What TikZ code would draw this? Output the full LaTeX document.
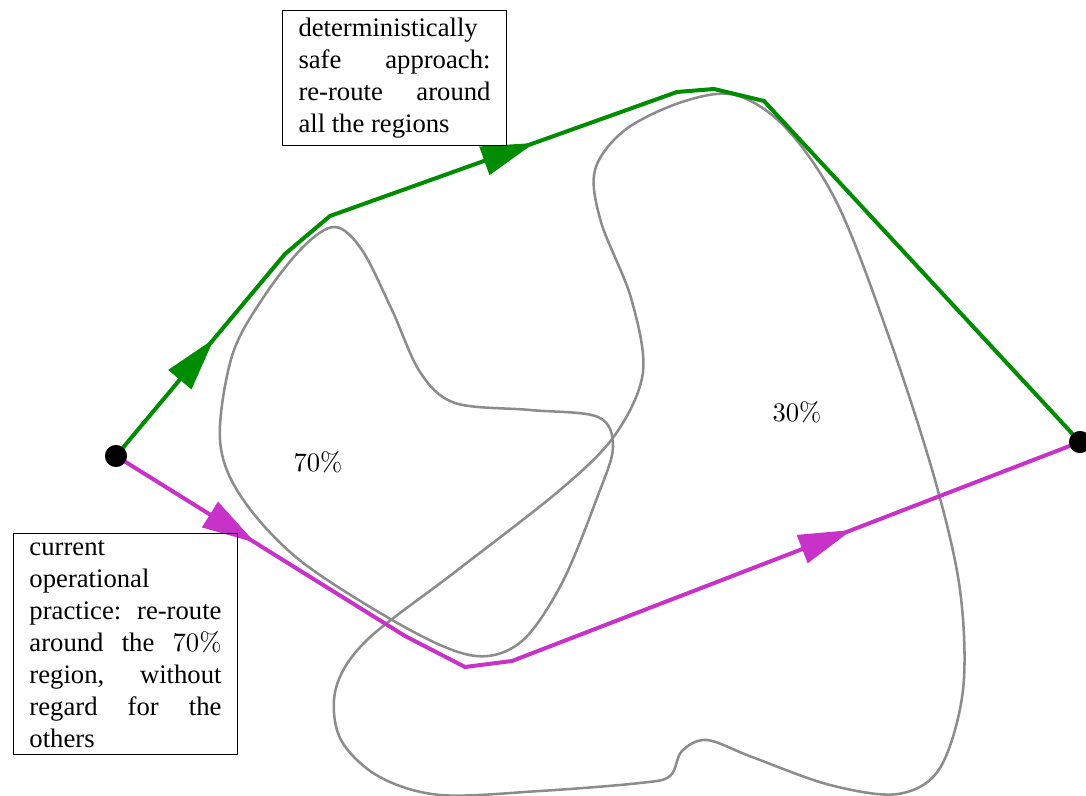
\documentclass[tikz,border=0pt]{standalone}
\usepackage{fontspec}
\setmainfont{Liberation Serif}
\newfontfamily\lmr{Latin Modern Roman}
\usetikzlibrary{arrows.meta,decorations.markings}
\definecolor{safegreen}{RGB}{0,140,0}
\definecolor{practicemag}{RGB}{200,50,200}
\definecolor{regiongray}{RGB}{140,140,140}
\begin{document}
\begin{tikzpicture}[x=0.375pt,y=-0.375pt,
  region/.style={draw=regiongray, line width=0.95pt},
  route/.style={line width=1.5pt, line join=miter},
  endpoint/.style={circle, fill=black, inner sep=0pt, minimum size=8.2pt},
  notebox/.style={draw, line width=0.4pt, text width=72pt, align=justify,
    inner xsep=6pt, inner ysep=2.6pt, font=\fontsize{10pt}{12pt}\selectfont},
  pct/.style={font=\lmr\fontsize{10pt}{12pt}\selectfont}
]
\useasboundingbox (0,0) rectangle (1086,796);

% uncertain regions
\draw[region] plot[smooth cycle, tension=0.55] coordinates {
  (335,227) (362,250) (392,310) (420,372) (455,403) (530,410)
  (598,417) (613,447) (597,498) (562,583) (522,641) (476,656)
  (410,630) (302,562) (242,498) (220,440) (232,356) (263,298) (303,247)};
\draw[region] plot[smooth cycle, tension=0.55] coordinates {
  (735,95) (786,128) (838,205) (890,340) (935,480) (960,590)
  (963,690) (940,768) (898,794) (830,785) (752,757) (707,740)
  (682,751) (670,776) (640,783) (540,791) (440,795) (378,776)
  (340,738) (336,688) (367,640) (455,572) (560,490) (615,435)
  (643,372) (631,298) (601,222) (595,170) (625,130) (682,102)};

\node[pct] (p70) at (318,462) {70\%};
\node[pct] (p30) at (797,412) {30\%};

% start and destination
\node[endpoint] (s) at (116,456) {};
\node[endpoint] (t) at (1080,442) {};

% deterministically safe route
\coordinate (g1) at (285,254);
\coordinate (g2) at (330,216);
\coordinate (g3) at (677,92);
\coordinate (g4) at (714,89);
\coordinate (g5) at (764,101);
\draw[route, color=safegreen,
  decoration={markings,
    mark=at position 57.3pt with {\arrow{Triangle[length=20pt,width=11pt]}},
    mark=at position 202.3pt with {\arrow{Triangle[length=20pt,width=11pt]}}},
  postaction=decorate]
  (s.center) -- (g1) -- (g2) -- (g3) -- (g4) -- (g5) -- (t.center);

% current operational practice route
\coordinate (m1) at (405,636);
\coordinate (m2) at (465,667);
\coordinate (m3) at (512,661);
\draw[route, color=practicemag,
  decoration={markings,
    mark=at position 61.5pt with {\arrow{Triangle[length=20pt,width=11pt]}},
    mark=at position 307.4pt with {\arrow{Triangle[length=20pt,width=11pt]}}},
  postaction=decorate]
  (s.center) -- (m1) -- (m2) -- (m3) -- (t.center);

\node[endpoint] at (s) {};
\node[endpoint] at (t) {};

% notes
\node[notebox] (safe) at (394.5,78) {deterministically\linebreak safe approach:\linebreak re-route around\linebreak all the regions};
\node[notebox] (practice) at (125.5,644) {current\linebreak operational\linebreak practice: re-route\linebreak around the {\lmr 70\%}\linebreak region, without\linebreak regard for the\linebreak others};
\end{tikzpicture}
\end{document}
